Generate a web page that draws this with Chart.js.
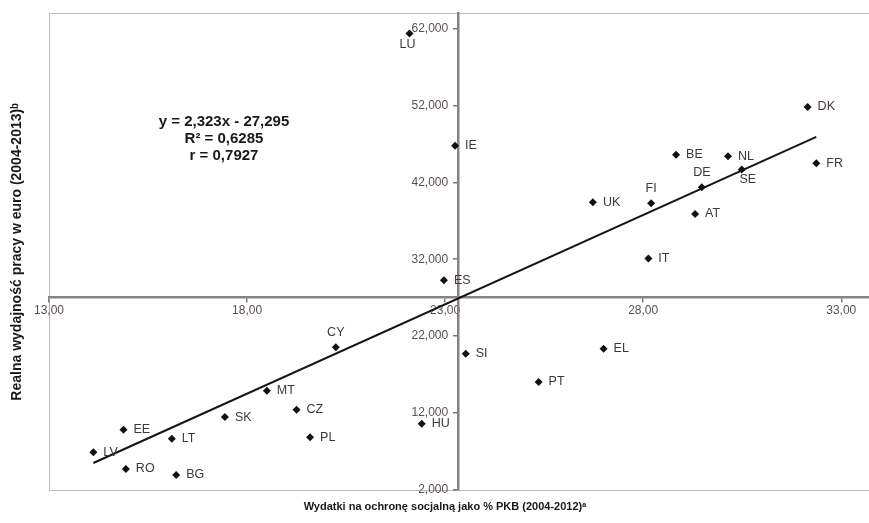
<!DOCTYPE html>
<html>
<head>
<meta charset="utf-8">
<script src="https://cdn.jsdelivr.net/npm/chart.js@4/dist/chart.umd.min.js"></script>
<style>
  html, body { margin: 0; padding: 0; background: #fff; overflow: hidden; }
  canvas { display: block; }
</style>
</head>
<body>
<canvas id="c" width="873" height="523"></canvas>
<script>
// EU member states: social protection spending (% of GDP) vs real labour productivity (thousand EUR)
const countries = ['LU','IE','ES','SI','HU','DK','FR','BE','NL','SE','DE','FI','UK','AT','IT','EL','PT','CY','MT','CZ','SK','PL','EE','LT','LV','RO','BG'];
const socialSpending = [22.10, 23.25, 22.97, 23.52, 22.41, 32.15, 32.37, 28.83, 30.14, 30.49, 29.48, 28.20, 26.73, 29.31, 28.13, 27.00, 25.36, 20.24, 18.50, 19.25, 17.44, 19.59, 14.88, 16.10, 14.12, 14.94, 16.21];
const productivity = [61.35, 46.74, 29.26, 19.70, 10.61, 51.78, 44.48, 45.56, 45.39, 43.65, 41.35, 39.26, 39.39, 37.87, 32.09, 20.35, 16.05, 20.56, 14.91, 12.43, 11.48, 8.87, 9.83, 8.65, 6.92, 4.74, 3.96];
const xTicks = [13, 18, 23, 28, 33];
const yTicks = [2, 12, 22, 32, 42, 52, 62];

// linear regression reported on the chart
const trendSlope = 2.323;
const trendIntercept = -27.295;
const rSquared = 0.6285;
const rValue = 0.7927;

// the two axes cross at the sample means
const xCross = 23.33;
const yCross = 27.1;

const FONT = "'Liberation Sans', Arial, sans-serif";
const comma = (v, d) => v.toFixed(d).replace('.', ',');

// label placement around each marker (default: to the right)
const labelPlacement = { LU: 'belowLeft', FI: 'above', DE: 'above', CY: 'above', SE: 'belowRight' };

const points = countries.map((c, i) => ({ x: socialSpending[i], y: productivity[i] }));
const xLo = Math.min(...socialSpending), xHi = Math.max(...socialSpending);
const trend = [xLo, xHi].map(x => ({ x, y: trendSlope * x + trendIntercept }));

const framePlugin = {
  id: 'frame',
  beforeDraw(chart) {
    const { ctx, chartArea: a } = chart;
    ctx.save();
    ctx.strokeStyle = '#bcb6b6';
    ctx.lineWidth = 1;
    ctx.beginPath();
    ctx.moveTo(chart.width, a.top + 0.5);
    ctx.lineTo(a.left + 0.5, a.top + 0.5);
    ctx.lineTo(a.left + 0.5, a.bottom + 0.5);
    ctx.lineTo(chart.width, a.bottom + 0.5);
    ctx.stroke();
    ctx.restore();
  },
  // value labels of the vertical axis, set off to the left of the crossing axis line
  afterDraw(chart) {
    const { ctx } = chart;
    const ys = chart.scales.y;
    const axisX = chart.scales.x.getPixelForValue(xCross);
    ctx.save();
    ctx.font = '12px ' + FONT;
    ctx.fillStyle = '#5a4f4f';
    ctx.textAlign = 'right';
    ctx.textBaseline = 'middle';
    ys.ticks.forEach(t => {
      ctx.fillText(comma(t.value, 3), axisX - 10, ys.getPixelForValue(t.value));
    });
    ctx.restore();
  }
};

const textPlugin = {
  id: 'texts',
  afterDatasetsDraw(chart) {
    const { ctx } = chart;
    const meta = chart.getDatasetMeta(0);
    ctx.save();
    ctx.font = '12.5px ' + FONT;
    ctx.fillStyle = '#3f3636';
    ctx.textBaseline = 'middle';
    meta.data.forEach((pt, i) => {
      const name = countries[i];
      const where = labelPlacement[name] || 'right';
      let x = pt.x, y = pt.y;
      if (where === 'right') { ctx.textAlign = 'left'; x += 10; }
      else if (where === 'above') { ctx.textAlign = 'center'; y -= 15; }
      else if (where === 'belowLeft') { ctx.textAlign = 'center'; x -= 2; y += 11; }
      else if (where === 'belowRight') { ctx.textAlign = 'center'; x += 6; y += 10; }
      ctx.fillText(name, x, y);
    });
    ctx.restore();
  },
  afterDraw(chart) {
    const { ctx } = chart;
    ctx.save();
    ctx.fillStyle = '#1c1818';
    ctx.textAlign = 'center';
    ctx.textBaseline = 'middle';
    ctx.font = 'bold 15px ' + FONT;
    const sign = trendIntercept < 0 ? ' - ' : ' + ';
    ctx.fillText('y = ' + comma(trendSlope, 3) + 'x' + sign + comma(Math.abs(trendIntercept), 3), 224, 122);
    ctx.fillText('R\u00B2 = ' + comma(rSquared, 4), 224, 139);
    ctx.fillText('r = ' + comma(rValue, 4), 224, 156);

    ctx.font = 'bold 11px ' + FONT;
    ctx.fillText('Wydatki na ochronę socjalną jako % PKB (2004-2012)\u1D43', 445, 507);
    ctx.font = 'bold 14px ' + FONT;
    ctx.translate(17, 252);
    ctx.rotate(-Math.PI / 2);
    ctx.fillText('Realna wydajność pracy w euro (2004-2013)\u1D47', 0, 0);
    ctx.restore();
  }
};

new Chart(document.getElementById('c'), {
  type: 'scatter',
  data: {
    datasets: [
      {
        label: 'kraje',
        data: points,
        pointStyle: 'rectRot',
        pointRadius: 4,
        pointBackgroundColor: '#111',
        pointBorderColor: '#111',
        pointBorderWidth: 0,
        showLine: false
      },
      {
        type: 'line',
        label: 'trend',
        data: trend,
        borderColor: '#151515',
        borderWidth: 2,
        pointRadius: 0,
        fill: false,
        tension: 0
      }
    ]
  },
  options: {
    responsive: false,
    animation: false,
    layout: { padding: { left: 49, top: 13, right: 0, bottom: 33 } },
    plugins: { legend: { display: false }, tooltip: { enabled: false }, title: { display: false } },
    scales: {
      x: {
        type: 'linear',
        min: 13,
        max: 33.7,
        position: { y: yCross },
        afterBuildTicks: s => { s.ticks = xTicks.map(v => ({ value: v })); },
        ticks: {
          font: { family: FONT, size: 12 },
          color: '#5a4f4f',
          padding: 3,
          maxRotation: 0,
          autoSkip: false,
          callback: v => comma(v, 2)
        },
        grid: { drawOnChartArea: false, drawTicks: true, tickLength: 4, color: '#7f7777', lineWidth: 1.5 },
        border: { display: true, color: '#8a8282', width: 2.5 }
      },
      y: {
        type: 'linear',
        min: 2,
        max: 64,
        position: { x: xCross },
        afterBuildTicks: s => { s.ticks = yTicks.map(v => ({ value: v })); },
        ticks: {
          display: false,
          font: { family: FONT, size: 12 },
          padding: 5,
          autoSkip: false
        },
        grid: { drawOnChartArea: false, drawTicks: true, tickLength: 4, color: '#7f7777', lineWidth: 1.5 },
        border: { display: true, color: '#8a8282', width: 2.5 }
      }
    }
  },
  plugins: [framePlugin, textPlugin]
});
</script>
</body>
</html>
